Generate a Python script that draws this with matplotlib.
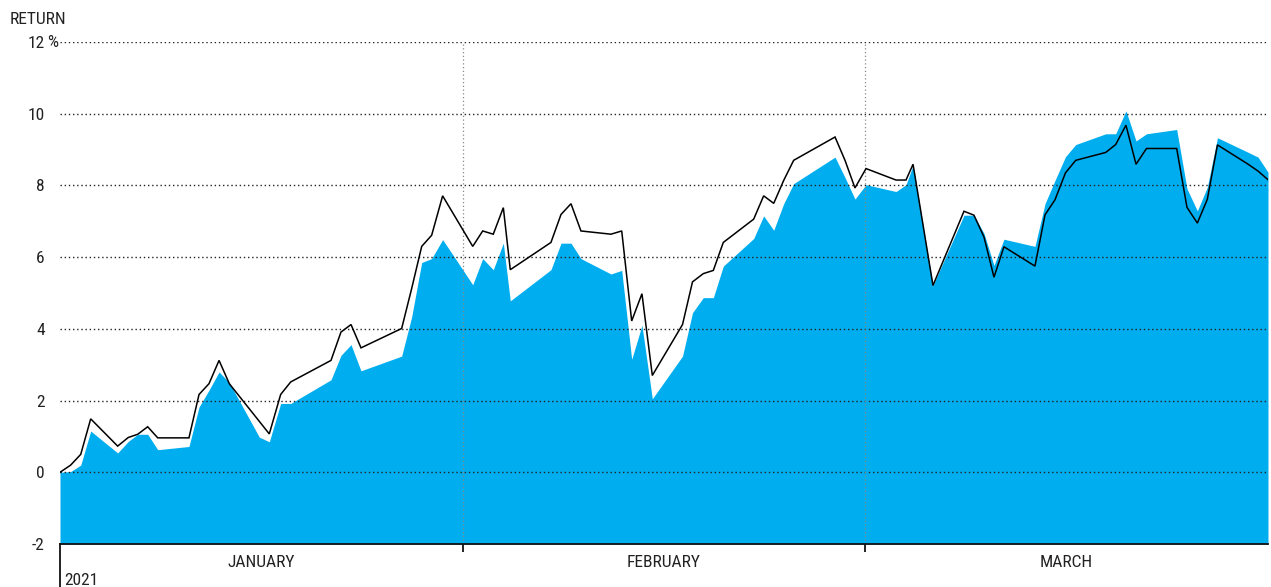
import matplotlib
matplotlib.use("Agg")
import matplotlib.pyplot as plt
from matplotlib.lines import Line2D

plt.rcParams['font.family'] = ['Roboto Condensed', 'DejaVu Sans']

# x positions (trading-day positions on a 120-unit axis; months are 40 units wide)
day = [0.0, 1.06, 2.06, 3.05, 5.73, 6.78, 7.72, 8.71, 9.71, 12.81,
       13.81, 14.80, 15.80, 16.82, 19.80, 20.79, 21.92, 22.92, 26.92, 27.91,
       28.91, 29.90, 33.94, 34.93, 35.93, 36.92, 38.01, 41.00, 41.99, 43.04,
       44.04, 44.73, 48.77, 49.77, 50.76, 51.75, 54.73, 55.80, 56.79, 57.81,
       58.84, 61.84, 62.83, 63.90, 64.90, 65.89, 68.91, 69.90, 70.90, 71.89,
       72.88, 76.99, 77.98, 78.97, 80.07, 83.05, 84.04, 84.74, 86.72, 89.80,
       90.79, 91.79, 92.78, 93.77, 96.85, 97.85, 98.84, 99.88, 100.90, 103.88,
       104.87, 105.89, 106.89, 107.93, 110.93, 111.95, 112.98, 113.97, 114.98, 117.98,
       119.01, 120.0]

# black line series (%)
line_return = [0.00, 0.20, 0.50, 1.49, 0.73, 0.97, 1.06, 1.27, 0.96, 0.96,
               2.17, 2.47, 3.12, 2.47, 1.42, 1.07, 2.17, 2.52, 3.12, 3.91,
               4.12, 3.47, 4.01, 5.12, 6.30, 6.61, 7.71, 6.30, 6.73, 6.64,
               7.38, 5.65, 6.41, 7.19, 7.49, 6.73, 6.64, 6.73, 4.22, 4.98,
               2.70, 4.12, 5.31, 5.54, 5.63, 6.41, 7.06, 7.71, 7.50, 8.14,
               8.70, 9.35, 8.70, 7.93, 8.47, 8.15, 8.15, 8.59, 5.21, 7.28,
               7.17, 6.56, 5.44, 6.29, 5.75, 7.18, 7.60, 8.35, 8.70, 8.92,
               9.14, 9.68, 8.59, 9.03, 9.03, 7.39, 6.95, 7.61, 9.13, 8.60,
               8.40, 8.16]

# blue area series (%)
area_return = [0.00, 0.02, 0.20, 1.15, 0.54, 0.86, 1.06, 1.06, 0.63, 0.72,
               1.82, 2.29, 2.80, 2.50, 0.98, 0.85, 1.92, 1.92, 2.58, 3.26,
               3.56, 2.83, 3.24, 4.33, 5.85, 5.96, 6.49, 5.23, 5.96, 5.65,
               6.39, 4.78, 5.65, 6.39, 6.39, 5.96, 5.53, 5.63, 3.15, 4.10,
               2.05, 3.24, 4.45, 4.87, 4.87, 5.75, 6.52, 7.15, 6.75, 7.49,
               8.05, 8.79, 8.22, 7.62, 8.02, 7.83, 8.02, 8.56, 5.21, 7.17,
               7.17, 6.66, 5.77, 6.50, 6.30, 7.49, 8.14, 8.80, 9.14, 9.44,
               9.44, 10.08, 9.24, 9.44, 9.56, 7.91, 7.29, 7.95, 9.33, 8.93,
               8.79, 8.37]

y_ticks = [-2, 0, 2, 4, 6, 8, 10, 12]
y_ticklabels = ['-2', '0', '2', '4', '6', '8', '10', '12']
month_bounds = [0, 40, 80, 120]
month_labels = ['JANUARY', 'FEBRUARY', 'MARCH']
year_label = '2021'
y_title = 'RETURN'

BLUE = '#00AEEF'
TXT = '#222222'
FS = 12.5

fig = plt.figure(figsize=(12.71, 5.87), dpi=100)
ax = fig.add_axes([60 / 1271, 43 / 587, 1208 / 1271, 502 / 587])
ax.set_xlim(month_bounds[0], month_bounds[-1])
ax.set_ylim(y_ticks[0], y_ticks[-1])

ax.fill_between(day, area_return, y_ticks[0], color=BLUE, lw=0, zorder=1)
ax.plot(day, line_return, color='black', lw=1.1, zorder=4, solid_joinstyle='miter')

# horizontal dotted grid
for yv in y_ticks[1:]:
    ax.axhline(yv, color='#222222', lw=1.0, ls=(0, (1, 2)), zorder=2)
# vertical dotted month separators
for xv in month_bounds[1:-1]:
    ax.axvline(xv, color='#888888', lw=0.9, ls=(0, (1, 2)), zorder=2)

for s in ['top', 'right', 'left']:
    ax.spines[s].set_visible(False)
ax.spines['bottom'].set_linewidth(1.3)
ax.spines['bottom'].set_color('#111111')
ax.spines['bottom'].set_zorder(5)

ax.set_yticks(y_ticks)
ax.set_yticklabels(y_ticklabels)
ax.tick_params(axis='y', length=0, pad=11, labelsize=FS, labelcolor=TXT)
ax.set_xticks(month_bounds[1:-1])
ax.set_xticklabels([])
ax.tick_params(axis='x', length=6, width=1.3, color='#111111', direction='out')

# percent sign after top label
ax.annotate('%', xy=(0, y_ticks[-1]), xycoords=('axes fraction', 'data'),
            xytext=(-9, 0), textcoords='offset points', ha='left', va='center',
            fontsize=FS, color=TXT)

# long tick at start of axis
ax.add_line(Line2D([0, 0], [0, -45 / 502], transform=ax.transAxes,
                   color='#111111', lw=1.3, clip_on=False))

# month labels
for i, lab in enumerate(month_labels):
    xc = (month_bounds[i] + month_bounds[i + 1]) / 2
    ax.annotate(lab, xy=(xc, 0), xycoords=('data', 'axes fraction'),
                xytext=(0, -8), textcoords='offset points', ha='center', va='top',
                fontsize=FS, color=TXT)

ax.annotate(year_label, xy=(0, 0), xycoords='axes fraction',
            xytext=(3, -21), textcoords='offset points', ha='left', va='top',
            fontsize=FS, color=TXT)

fig.text(10 / 1271, 1 - 19 / 587, y_title, ha='left', va='center', fontsize=FS, color=TXT)

fig.savefig('out.png', dpi=100)
